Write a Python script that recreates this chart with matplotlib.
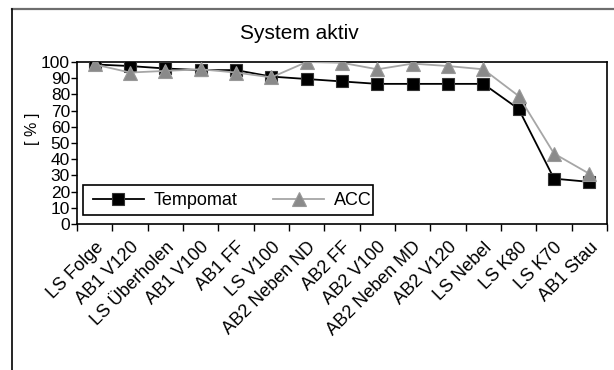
import matplotlib
matplotlib.use("Agg")
import matplotlib.pyplot as plt
import matplotlib.transforms as mtransforms
from matplotlib.lines import Line2D
from matplotlib.patches import Rectangle
import numpy as np

plt.rcParams['font.family'] = ['Liberation Sans', 'DejaVu Sans']

categories = ["LS Folge", "AB1 V120", "LS Überholen", "AB1 V100", "AB1 FF", "LS V100",
              "AB2 Neben ND", "AB2 FF", "AB2 V100", "AB2 Neben MD", "AB2 V120",
              "LS Nebel", "LS K80", "LS K70", "AB1 Stau"]
tempomat = [98.5, 97.5, 96, 95, 95, 91, 89.5, 88, 86.5, 86.5, 86.5, 86.5, 71, 28, 26]
acc = [98.5, 93.5, 94.5, 95.5, 93.5, 90.5, 100, 99.5, 95.5, 99, 97.5, 95.5, 79, 43.5, 31]
yticks = list(range(0, 101, 10))

W, H = 614, 370
fig = plt.figure(figsize=(W / 100, H / 100), dpi=100)
fig.patch.set_facecolor('white')

# outer chart border (cut off at right and bottom)
fig.add_artist(Line2D([12 / W, 1.0], [1 - 9 / H, 1 - 9 / H], color='#6e6e6e', lw=1.6,
                      transform=fig.transFigure))
fig.add_artist(Line2D([12 / W, 12 / W], [1 - 9 / H, 0.0], color='black', lw=1.2,
                      transform=fig.transFigure))

left, right, top, bottom = 77, 607, 62, 224
ax = fig.add_axes([left / W, 1 - bottom / H, (right - left) / W, (bottom - top) / H])

x = np.arange(len(categories))
ax.plot(x, tempomat, color='black', lw=1.3, marker='s', markersize=9,
        markerfacecolor='black', markeredgecolor='#333333', markeredgewidth=0.8,
        label='Tempomat', zorder=3)
ax.plot(x, acc, color='#a6a6a6', lw=1.3, marker='^', markersize=10,
        markerfacecolor='#8a8a8a', markeredgecolor='#999999', markeredgewidth=0.8,
        label='ACC', zorder=4)

ax.set_xlim(-0.5, len(categories) - 0.5)
ax.set_ylim(0, 100)
ax.set_yticks(yticks)
ax.set_yticklabels([str(v) for v in yticks])
ax.tick_params(axis='y', direction='out', length=4, width=1, pad=1, labelsize=12.5)

ax.set_xticks(x)
ax.set_xticklabels(categories, rotation=45, rotation_mode='anchor', ha='right', va='center',
                   fontsize=13)
ax.tick_params(axis='x', which='major', length=0, pad=15)
offset = mtransforms.ScaledTranslation(6 / 100, 0, fig.dpi_scale_trans)
for lab in ax.get_xticklabels():
    lab.set_transform(lab.get_transform() + offset)
ax.set_xticks(np.arange(-0.5, len(categories), 1.0), minor=True)
ax.tick_params(axis='x', which='minor', direction='out', length=5, width=1)

for s in ax.spines.values():
    s.set_linewidth(1.2)
    s.set_color('black')

fig.text(33 / W, 1 - 129 / H, '[ % ]', rotation=90, fontsize=11.5, ha='center', va='center')
fig.text(299 / W, 1 - 39 / H, 'System aktiv', fontsize=15, ha='center', va='baseline')

# legend box (pixel 83..373 x 185..215) drawn by hand, entries placed inside
def ax_x(px):
    return (px - left) / (right - left)

def ax_y(py):
    return (bottom - py) / (bottom - top)

box = Rectangle((ax_x(83), ax_y(215)), ax_x(373) - ax_x(83), ax_y(185) - ax_y(215),
                transform=ax.transAxes, facecolor='white', edgecolor='black', lw=1.2,
                zorder=5)
ax.add_patch(box)
leg = ax.legend(loc='center left', bbox_to_anchor=(ax_x(93), ax_y(200.5)),
                ncol=2, fontsize=13, frameon=False,
                handlelength=2.8, handletextpad=0.55,
                borderaxespad=0, borderpad=0, columnspacing=2.0)
leg.set_zorder(6)

fig.savefig('out.png', dpi=100, facecolor='white')
